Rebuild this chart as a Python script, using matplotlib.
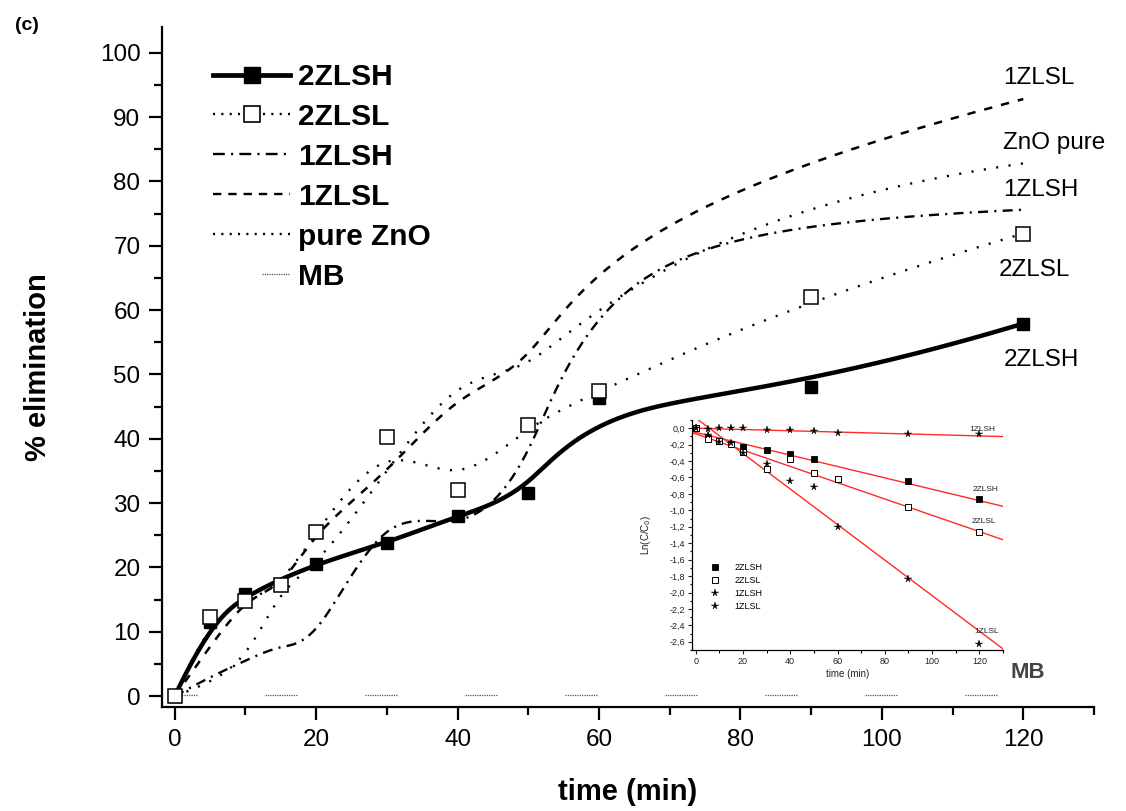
import numpy as np
import matplotlib
matplotlib.use("Agg")
import matplotlib.pyplot as plt
from matplotlib.lines import Line2D
from matplotlib.ticker import MultipleLocator, FuncFormatter

plt.rcParams['font.family'] = ['Liberation Sans', 'DejaVu Sans']
plt.rcParams['lines.scale_dashes'] = False

# ---------------- main plot data (% elimination) ----------------
t_2zlsh = [0, 5, 10, 20, 30, 40, 50, 60, 90, 120]
e_2zlsh = [0, 11.5, 15.8, 20.6, 23.8, 28.0, 31.5, 46.4, 48.0, 57.9]

t_all = [0, 5, 10, 15, 20, 30, 40, 50, 60, 90, 120]
e_2zlsl = [0, 12.3, 14.7, 17.2, 25.5, 40.2, 32.1, 42.2, 47.4, 62.1, 71.9]
e_1zlsh = [0, 3.0, 5.5, 8.0, 8.0, 30.0, 25.0, 34.0, 69.0, 74.0, 75.6]
e_1zlsl = [0, 7.7, 15.6, 16.5, 25.9, 34.6, 47.1, 50.8, 69.9, 84.1, 92.8]
e_zno = [0, 2.0, 5.0, 17.0, 20.0, 35.0, 50.0, 50.0, 62.0, 78.0, 82.8]
t_mb = [0, 120]
e_mb = [0.2, 0.2]

legend_labels = ['2ZLSH', '2ZLSL', '1ZLSH', '1ZLSL', 'pure ZnO', 'MB']
end_labels = ['1ZLSL', 'ZnO pure', '1ZLSH', '2ZLSL', '2ZLSH']
end_label_x = [117.2, 117.2, 117.2, 116.6, 117.2]
end_label_y = [96.1, 86.0, 78.7, 66.3, 52.3]

# ---------------- inset data (ln C/C0) ----------------
ins_t = [0, 5, 10, 15, 20, 30, 40, 50, 60, 90, 120]
ins_2zlsh = [0.0, -0.12, -0.16, -0.19, -0.23, -0.27, -0.32, -0.37, -0.62, -0.64, -0.86]
ins_2zlsl = [0.0, -0.13, -0.16, -0.19, -0.29, -0.50, -0.38, -0.54, -0.62, -0.96, -1.26]
ins_1zlsh = [0.0, -0.01, 0.0, 0.0, 0.0, -0.02, -0.02, -0.03, -0.06, -0.07, -0.07]
ins_1zlsl = [0.0, -0.08, -0.17, -0.18, -0.30, -0.43, -0.64, -0.71, -1.20, -1.84, -2.63]
fit_names = ['1ZLSH', '2ZLSH', '2ZLSL', '1ZLSL']
fit_slope = [-0.00078, -0.00692, -0.00991, -0.02162]
fit_intercept = [0.0, -0.051, -0.069, 0.124]
fit_label_x = [121.2, 122.6, 122.1, 123.0]
fit_label_y = [-0.01, -0.75, -1.14, -2.48]


def bspline(xs, ys, num=500, k=3):
    """Clamped uniform cubic B-spline using the data as control points."""
    P = np.column_stack([xs, ys]).astype(float)
    n = len(P)
    knots = np.concatenate([[0] * k, np.arange(n - k + 1), [n - k] * k]).astype(float)
    t = np.linspace(0, n - k, num)
    m = len(knots) - 1
    N = np.zeros((num, m))
    for i in range(m):
        N[:, i] = (knots[i] <= t) & (t < knots[i + 1])
    N[t >= knots[-1], n - 1] = 1.0
    for d in range(1, k + 1):
        Nn = np.zeros((num, m - d))
        for i in range(m - d):
            a = knots[i + d] - knots[i]
            b = knots[i + d + 1] - knots[i + 1]
            term = np.zeros(num)
            if a > 0:
                term += (t - knots[i]) / a * N[:, i]
            if b > 0:
                term += (knots[i + d + 1] - t) / b * N[:, i + 1]
            Nn[:, i] = term
        N = Nn
    C = N[:, :n] @ P
    return C[:, 0], C[:, 1]


fig = plt.figure(figsize=(11.26, 8.11), dpi=100)
ax = fig.add_axes([162 / 1126, 1 - 707 / 811, (1094 - 162) / 1126, (707 - 27) / 811])

dot_style = (0, (1.5, 7.5))
dashdot_style = (0, (7.2, 4.5, 1.5, 4.5))
dash_style = (0, (6.0, 6.5))
mb_on = [0.9, 0.8] * 14
mb_pattern = tuple(mb_on[:-1] + [0.8 + 48.2])
mb_style = (7.2, mb_pattern)

# curves
x, y = bspline(t_all, e_1zlsl)
ax.plot(x, y, color='black', lw=1.8, linestyle=dash_style, dash_capstyle='butt')
x, y = bspline(t_all, e_zno)
ax.plot(x, y, color='black', lw=1.7, linestyle=dot_style, dash_capstyle='butt')
x, y = bspline(t_all, e_1zlsh)
ax.plot(x, y, color='black', lw=1.7, linestyle=dashdot_style, dash_capstyle='butt')
x, y = bspline(t_all, e_2zlsl)
ax.plot(x, y, color='black', lw=1.7, linestyle=dot_style, dash_capstyle='butt')
x, y = bspline(t_2zlsh, e_2zlsh)
ax.plot(x, y, color='black', lw=3.2, solid_capstyle='round')
ax.plot(t_2zlsh, e_2zlsh, linestyle='none', marker='s', ms=9, mfc='black', mec='black', zorder=4)
ax.plot(t_all, e_2zlsl, linestyle='none', marker='s', ms=9.5, mfc='white', mec='black', mew=1.1, zorder=5)
ax.plot(t_mb, e_mb, color='#555555', lw=0.9, linestyle=mb_style, dash_capstyle='butt')

ax.set_xlim(-1.8, 130)
ax.set_ylim(-1.7, 104)
for s in ['top', 'right']:
    ax.spines[s].set_visible(False)
for s in ['left', 'bottom']:
    ax.spines[s].set_linewidth(1.6)
ax.xaxis.set_major_locator(MultipleLocator(20))
ax.xaxis.set_minor_locator(MultipleLocator(10))
ax.yaxis.set_major_locator(MultipleLocator(10))
ax.yaxis.set_minor_locator(MultipleLocator(5))
ax.tick_params(which='major', direction='out', length=9.5, width=1.6, labelsize=17.5, pad=6)
ax.tick_params(which='minor', direction='out', length=5.5, width=1.6)
ax.set_xlabel('time (min)', fontsize=21, fontweight='bold', labelpad=20)
ax.set_ylabel('% elimination', fontsize=21, fontweight='bold', labelpad=34)

for lab, lx, ly in zip(end_labels, end_label_x, end_label_y):
    ax.text(lx, ly, lab, fontsize=17.5, ha='left', va='center')

# legend proxies
handles = [
    Line2D([], [], color='black', lw=3.4, marker='s', ms=12, mfc='black', mec='black', markevery=[1]),
    Line2D([], [], color='black', lw=1.7, linestyle=(0, (1.5, 4.5)), marker='s', ms=12, mfc='white',
           mec='black', mew=1.2, dash_capstyle='butt'),
    Line2D([], [], color='black', lw=1.7, linestyle=(0, (8.5, 4.5, 1.5, 4.5)), dash_capstyle='butt'),
    Line2D([], [], color='black', lw=1.7, linestyle=(0, (6.0, 5.0)), dash_capstyle='butt'),
    Line2D([], [], color='black', lw=1.7, linestyle=(0, (1.5, 4.5)), dash_capstyle='butt'),
    Line2D([], [], color='#555555', lw=0.9, linestyle=(36.8, mb_pattern), dash_capstyle='butt'),
]
leg = ax.legend(handles, legend_labels, loc='upper left', bbox_to_anchor=((213 - 162) / 932, (707 - 63) / 680),
                frameon=False, prop={'size': 21.5, 'weight': 'bold'}, handlelength=2.58, handletextpad=0.27,
                labelspacing=0.4, borderpad=0, borderaxespad=0, numpoints=1)

fig.text(15 / 1126, 1 - 25 / 811, '(c)', fontsize=14, fontweight='bold', ha='left', va='center')
fig.text(1028 / 1126, 1 - 672 / 811, 'MB', fontsize=16, fontweight='bold', color='#444444',
         ha='center', va='center')

# ---------------- inset ----------------
ins = fig.add_axes([692 / 1126, 1 - 650 / 811, (1003 - 692) / 1126, (650 - 420) / 811])
ins.patch.set_alpha(0)
ins.set_xlim(-1.6, 130)
ins.set_ylim(-2.7, 0.1)
xl = np.array(ins.get_xlim())
for sl, ic in zip(fit_slope, fit_intercept):
    ins.plot(xl, ic + sl * xl, color='#ff2a2a', lw=1.0)
ms_ins = 4
ins.plot(t_2zlsh, [v for tt, v in zip(ins_t, ins_2zlsh) if tt in t_2zlsh], 's', ms=ms_ins, mfc='black',
         mec='black', mew=0.6, label='2ZLSH')
ins.plot(ins_t, ins_2zlsl, 's', ms=ms_ins, mfc='white', mec='black', mew=0.7, label='2ZLSL')
ins.plot(ins_t, ins_1zlsh, '*', ms=5.5, mfc='black', mec='black', mew=0.3, label='1ZLSH')
ins.plot(ins_t, ins_1zlsl, '*', ms=5.5, mfc='black', mec='black', mew=0.3, label='1ZLSL')
for s in ['top', 'right']:
    ins.spines[s].set_visible(False)
for s in ['left', 'bottom']:
    ins.spines[s].set_linewidth(0.9)
ins.xaxis.set_major_locator(MultipleLocator(20))
ins.xaxis.set_minor_locator(MultipleLocator(10))
ins.yaxis.set_major_locator(MultipleLocator(0.2))
ins.yaxis.set_minor_locator(MultipleLocator(0.1))
ins.yaxis.set_major_formatter(FuncFormatter(lambda v, p: f"{v:.1f}".replace('.', ',').replace('-0,0', '0,0')))
ins.tick_params(which='major', direction='out', length=3, width=0.8, labelsize=6.5, pad=2, colors='#222222')
ins.tick_params(which='minor', direction='out', length=1.8, width=0.8)
ins.set_xlabel('time (min)', fontsize=7, labelpad=2, color='#222222')
ins.set_ylabel('Ln(C/C$_0$)', fontsize=7, labelpad=12, color='#222222')
for lab, lx, ly in zip(fit_names, fit_label_x, fit_label_y):
    ins.text(lx, ly, lab, fontsize=6, ha='center', va='center', color='#222222')
ins.legend(loc='upper left', bbox_to_anchor=(0.06, (650 - 563) / 230), frameon=False,
           prop={'size': 6.5}, handlelength=1.0, handletextpad=1.6, labelspacing=0.45,
           borderpad=0, borderaxespad=0, numpoints=1)

fig.savefig('out.png', dpi=100)
